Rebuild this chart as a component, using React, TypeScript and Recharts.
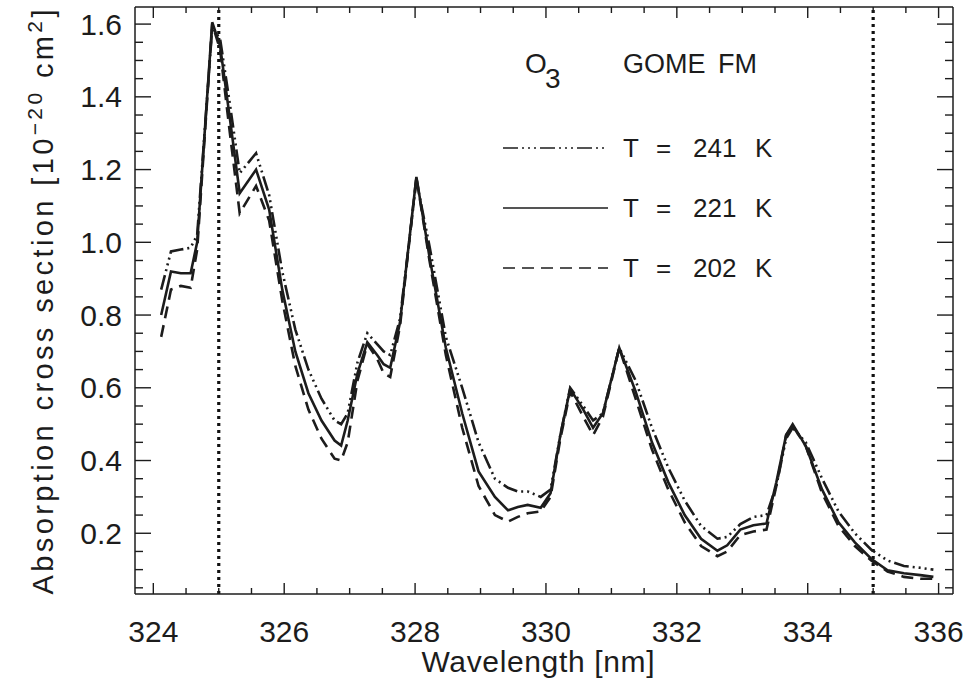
import { LineChart, Line, XAxis, YAxis, ReferenceLine } from "recharts";

// wavelength grid [nm]
const wavelengths = [
  324.12, 324.27, 324.42, 324.57, 324.67, 324.9, 325.02, 325.17, 325.32, 325.57,
  325.77, 325.97, 326.17, 326.37, 326.57, 326.77, 326.87, 326.97, 327.12, 327.27,
  327.42, 327.52, 327.62, 327.77, 328.02, 328.22, 328.47, 328.72, 328.97, 329.22,
  329.42, 329.57, 329.72, 329.92, 330.07, 330.22, 330.37, 330.57, 330.72, 330.87,
  331.12, 331.37, 331.62, 331.87, 332.12, 332.37, 332.62, 332.77, 332.97, 333.17,
  333.37, 333.52, 333.67, 333.77, 333.97, 334.22, 334.47, 334.72, 334.97, 335.22,
  335.47, 335.72, 335.92,
];

// cross sections [1e-20 cm^2]
const sigma241 = [
  0.87, 0.975, 0.98, 0.985, 1.02, 1.59, 1.56, 1.38, 1.19, 1.245,
  1.13, 0.92, 0.76, 0.65, 0.57, 0.51, 0.5, 0.53, 0.67, 0.75,
  0.72, 0.7, 0.69, 0.79, 1.17, 0.99, 0.74, 0.6, 0.45, 0.35,
  0.325, 0.315, 0.315, 0.3, 0.32, 0.47, 0.6, 0.55, 0.51, 0.53,
  0.71, 0.62, 0.49, 0.38, 0.29, 0.22, 0.185, 0.19, 0.225, 0.245,
  0.25, 0.33, 0.46, 0.49, 0.45, 0.35, 0.26, 0.2, 0.155, 0.125,
  0.11, 0.105, 0.1,
];

const sigma221 = [
  0.8, 0.92, 0.915, 0.915, 1.0, 1.605, 1.54, 1.34, 1.135, 1.2,
  1.09, 0.87, 0.7, 0.585, 0.51, 0.455, 0.441, 0.51, 0.64, 0.725,
  0.69, 0.665, 0.655, 0.78, 1.18, 0.96, 0.71, 0.53, 0.37, 0.3,
  0.263, 0.272, 0.278, 0.27, 0.31, 0.47, 0.597, 0.54, 0.49, 0.53,
  0.71, 0.59, 0.45, 0.34, 0.25, 0.185, 0.152, 0.167, 0.21, 0.222,
  0.227, 0.34, 0.47, 0.5, 0.44, 0.32, 0.23, 0.175, 0.13, 0.098,
  0.09, 0.085, 0.08,
];

const sigma202 = [
  0.74, 0.87, 0.88, 0.875, 0.98, 1.6, 1.53, 1.3, 1.08, 1.155,
  1.06, 0.84, 0.66, 0.54, 0.46, 0.405, 0.4, 0.45, 0.62, 0.72,
  0.68, 0.64, 0.63, 0.77, 1.18, 0.95, 0.69, 0.49, 0.33, 0.25,
  0.232, 0.245, 0.255, 0.26, 0.3, 0.46, 0.59, 0.52, 0.47, 0.52,
  0.71, 0.57, 0.43, 0.32, 0.23, 0.165, 0.137, 0.15, 0.195, 0.205,
  0.21, 0.33, 0.47, 0.495, 0.44, 0.31, 0.22, 0.165, 0.125, 0.095,
  0.08, 0.075, 0.075,
];

const xTicks = [
  324, 324.5, 325, 325.5, 326, 326.5, 327, 327.5, 328, 328.5, 329, 329.5, 330,
  330.5, 331, 331.5, 332, 332.5, 333, 333.5, 334, 334.5, 335, 335.5, 336,
];
const yTicks = [
  0.05, 0.1, 0.15, 0.2, 0.25, 0.3, 0.35, 0.4, 0.45, 0.5, 0.55, 0.6, 0.65, 0.7,
  0.75, 0.8, 0.85, 0.9, 0.95, 1.0, 1.05, 1.1, 1.15, 1.2, 1.25, 1.3, 1.35, 1.4,
  1.45, 1.5, 1.55, 1.6,
];
const windowEdges = [325, 335];
const temps = ["241", "221", "202"];

const INK = "#1c1c1c";
const FONT = "'Liberation Sans', Arial, sans-serif";
const DASHDOT = "15 4 2 4 2 4 2 4";
const DASHED = "12 7";

const data = wavelengths.map((x, i) => ({
  x,
  t241: sigma241[i],
  t221: sigma221[i],
  t202: sigma202[i],
}));

const isMajorX = (v: number) => Math.abs(v / 2 - Math.round(v / 2)) < 1e-6;
const isMajorY = (v: number) => Math.round(v * 100) % 20 === 0;

const BottomTick = ({ x, y, payload }: any) => {
  const major = isMajorX(payload.value);
  return (
    <g>
      <line x1={x} x2={x} y1={y} y2={y - (major ? 11 : 6)} stroke={INK} strokeWidth={1.4} />
      {major && (
        <text x={x} y={y + 48} textAnchor="middle" fontSize={30} fill={INK} fontFamily={FONT}>
          {payload.value}
        </text>
      )}
    </g>
  );
};

const TopTick = ({ x, y, payload }: any) => {
  const major = isMajorX(payload.value);
  return <line x1={x} x2={x} y1={y} y2={y + (major ? 11 : 6)} stroke={INK} strokeWidth={1.4} />;
};

const LeftTick = ({ x, y, payload }: any) => {
  const major = isMajorY(payload.value);
  return (
    <g>
      <line x1={x} x2={x + (major ? 16 : 8)} y1={y} y2={y} stroke={INK} strokeWidth={1.4} />
      {major && (
        <text x={x - 13} y={y + 10.5} textAnchor="end" fontSize={30} fill={INK} fontFamily={FONT}>
          {payload.value.toFixed(1)}
        </text>
      )}
    </g>
  );
};

const RightTick = ({ x, y, payload }: any) => {
  const major = isMajorY(payload.value);
  return <line x1={x} x2={x - (major ? 16 : 8)} y1={y} y2={y} stroke={INK} strokeWidth={1.4} />;
};

const legendDash = [DASHDOT, undefined, DASHED];
const legendY = [148, 208, 268];

export default function App() {
  const axisLine = { stroke: INK, strokeWidth: 1.5 };
  return (
    <div style={{ position: "absolute", left: 0, top: 0, width: 968, height: 687, background: "#fff" }}>
      <LineChart
        width={968}
        height={687}
        data={data}
        margin={{ top: 6, right: 14, bottom: 92, left: 134 }}
      >
        <XAxis
          xAxisId="b"
          dataKey="x"
          type="number"
          domain={[323.72, 336.22]}
          allowDataOverflow
          ticks={xTicks}
          interval={0}
          tick={BottomTick}
          tickLine={false}
          tickSize={0}
          tickMargin={0}
          height={1}
          axisLine={axisLine}
        />
        <XAxis
          xAxisId="t"
          orientation="top"
          dataKey="x"
          type="number"
          domain={[323.72, 336.22]}
          allowDataOverflow
          ticks={xTicks}
          interval={0}
          tick={TopTick}
          tickLine={false}
          tickSize={0}
          tickMargin={0}
          height={1}
          axisLine={axisLine}
        />
        <YAxis
          yAxisId="l"
          type="number"
          domain={[0.033, 1.647]}
          allowDataOverflow
          ticks={yTicks}
          interval={0}
          tick={LeftTick}
          tickLine={false}
          tickSize={0}
          tickMargin={0}
          width={1}
          axisLine={axisLine}
        />
        <YAxis
          yAxisId="r"
          orientation="right"
          type="number"
          domain={[0.033, 1.647]}
          allowDataOverflow
          ticks={yTicks}
          interval={0}
          tick={RightTick}
          tickLine={false}
          tickSize={0}
          tickMargin={0}
          width={1}
          axisLine={axisLine}
        />
        {windowEdges.map((w) => (
          <ReferenceLine
            key={w}
            x={w}
            xAxisId="b"
            yAxisId="l"
            stroke="#111"
            strokeWidth={3.2}
            strokeDasharray="3 4"
          />
        ))}
        <Line
          xAxisId="b"
          yAxisId="l"
          dataKey="t241"
          type="linear"
          stroke={INK}
          strokeWidth={2.6}
          strokeDasharray={DASHDOT}
          dot={false}
          isAnimationActive={false}
        />
        <Line
          xAxisId="b"
          yAxisId="l"
          dataKey="t221"
          type="linear"
          stroke={INK}
          strokeWidth={2.6}
          dot={false}
          isAnimationActive={false}
        />
        <Line
          xAxisId="b"
          yAxisId="l"
          dataKey="t202"
          type="linear"
          stroke={INK}
          strokeWidth={2.6}
          strokeDasharray={DASHED}
          dot={false}
          isAnimationActive={false}
        />
      </LineChart>

      <svg
        width={968}
        height={687}
        style={{ position: "absolute", left: 0, top: 0, pointerEvents: "none" }}
        fontFamily={FONT}
        fill={INK}
      >
        <text x={538} y={672} textAnchor="middle" fontSize={30} textLength={233} lengthAdjust="spacing">
          Wavelength [nm]
        </text>
        <text
          transform="translate(53,302) rotate(-90)"
          textAnchor="middle"
          fontSize={29}
          textLength={585}
          lengthAdjust="spacing"
        >
          Absorption cross section [10
          <tspan fontSize={21} dy={-11}>−20</tspan>
          <tspan dy={11}> cm</tspan>
          <tspan fontSize={21} dy={-11}>2</tspan>
          <tspan dy={11}>]</tspan>
        </text>

        <text x={525} y={73} fontSize={28}>O</text>
        <text x={545} y={88} fontSize={28}>3</text>
        <text y={73} fontSize={27}>
          <tspan x={623}>GOME</tspan>
          <tspan x={718}>FM</tspan>
        </text>

        {temps.map((t, i) => (
          <g key={t}>
            <line
              x1={503}
              x2={608}
              y1={legendY[i]}
              y2={legendY[i]}
              stroke={INK}
              strokeWidth={1.6}
              strokeDasharray={legendDash[i]}
            />
            <text y={legendY[i] + 9} fontSize={26}>
              <tspan x={623}>T</tspan>
              <tspan x={656}>=</tspan>
              <tspan x={693}>{t}</tspan>
              <tspan x={755}>K</tspan>
            </text>
          </g>
        ))}
      </svg>
    </div>
  );
}
